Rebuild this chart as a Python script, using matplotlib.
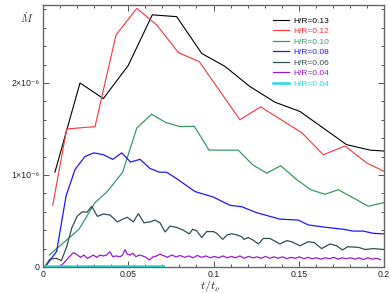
import matplotlib
matplotlib.use("Agg")
import matplotlib.pyplot as plt
from matplotlib.ticker import MultipleLocator, FixedLocator

plt.rcParams['font.family'] = ['Liberation Sans', 'DejaVu Sans']
plt.rcParams['mathtext.fontset'] = 'cm'

SCALE = 1e-6

labels = ["H/R=0.13", "H/R=0.12", "H/R=0.10", "H/R=0.08", "H/R=0.06", "H/R=0.04", "H/R=0.04"]
colors = ["#000000", "#ff3333", "#3a9a5f", "#1a1aff", "#2f4f4f", "#9a19d6", "#22dddd"]
widths = [0.8, 0.8, 0.9, 0.9, 0.9, 0.9, 1.8]

x013 = [0.0070, 0.0217, 0.0354, 0.0500, 0.0641, 0.0784, 0.0931, 0.1067, 0.1214, 0.1361, 0.1507, 0.1780, 0.1918, 0.2000]
y013 = [1.03, 2.00, 1.83, 2.19, 2.74, 2.72, 2.32, 2.18, 1.96, 1.79, 1.69, 1.33, 1.27, 1.26]

x012 = [0.0057, 0.0139, 0.0305, 0.0428, 0.0550, 0.0667, 0.0794, 0.0917, 0.1155, 0.1277, 0.1517, 0.1644, 0.1771, 0.1899, 0.2000]
y012 = [0.67, 1.50, 1.525, 2.52, 2.81, 2.63, 2.33, 2.23, 1.60, 1.74, 1.46, 1.22, 1.315, 1.13, 1.04]

x010 = [0.0037, 0.0211, 0.0305, 0.0377, 0.0467, 0.0550, 0.0637, 0.0720, 0.0804, 0.0887, 0.0974, 0.1145,
        0.1230, 0.1312, 0.1394, 0.1488, 0.1570, 0.1654, 0.1732, 0.1820, 0.1908, 0.2000]
y010 = [0.13, 0.41, 0.70, 0.82, 1.03, 1.51, 1.66, 1.57, 1.525, 1.53, 1.27, 1.27,
        1.11, 1.02, 1.10, 0.95, 0.84, 0.79, 0.84, 0.75, 0.66, 0.70]

x008 = [0.0012, 0.0080, 0.0135, 0.0188, 0.0246, 0.0299, 0.0354, 0.0409, 0.0462, 0.0514, 0.0569, 0.0628,
        0.0682, 0.0725, 0.0784, 0.0891, 0.0999, 0.1097, 0.1165, 0.1253, 0.1331, 0.1390, 0.1497, 0.1556,
        0.1664, 0.1761, 0.1820, 0.1879, 0.1937, 0.2000]
y008 = [0.0, 0.17, 0.77, 1.06, 1.20, 1.24, 1.22, 1.17, 1.24, 1.14, 1.17, 1.07,
        1.03, 1.03, 0.96, 0.82, 0.76, 0.67, 0.655, 0.59, 0.55, 0.52, 0.51, 0.457,
        0.43, 0.41, 0.39, 0.39, 0.366, 0.36]

x006 = [0.0010, 0.0040, 0.0076, 0.0108, 0.0139, 0.0168, 0.0200, 0.0230, 0.0258, 0.0286, 0.0319, 0.0354,
        0.0393, 0.0436, 0.0467, 0.0494, 0.0530, 0.0559, 0.0592, 0.0628, 0.0657, 0.0686, 0.0716, 0.0745,
        0.0784, 0.0823, 0.0858, 0.0878, 0.0901, 0.0931, 0.0960, 0.0999, 0.1019, 0.1054, 0.1081, 0.1107,
        0.1136, 0.1165, 0.1179, 0.1204, 0.1234, 0.1263, 0.1292, 0.1331, 0.1390, 0.1429, 0.1458, 0.1507,
        0.1556, 0.1591, 0.1634, 0.1683, 0.1723, 0.1756, 0.1787, 0.1850, 0.1889, 0.1937, 0.2000]
y006 = [0.0, 0.084, 0.095, 0.070, 0.22, 0.42, 0.55, 0.60, 0.595, 0.66, 0.55, 0.576,
        0.565, 0.49, 0.52, 0.54, 0.49, 0.58, 0.48, 0.49, 0.51, 0.48, 0.38, 0.445,
        0.43, 0.40, 0.36, 0.41, 0.395, 0.32, 0.385, 0.385, 0.366, 0.30, 0.35, 0.36,
        0.35, 0.33, 0.30, 0.32, 0.29, 0.25, 0.31, 0.31, 0.25, 0.286, 0.275, 0.23,
        0.275, 0.265, 0.20, 0.25, 0.23, 0.185, 0.22, 0.214, 0.19, 0.20, 0.19]

x004 = [0.0000, 0.0100, 0.0129, 0.0155, 0.0178, 0.0202, 0.0221, 0.0240, 0.0260, 0.0280, 0.0295, 0.0315,
        0.0334, 0.0354, 0.0373, 0.0393, 0.0409, 0.0428, 0.0452, 0.0467, 0.0481, 0.0494, 0.0510, 0.0526,
        0.0545, 0.0565, 0.0585, 0.0604, 0.0624, 0.0647, 0.0667, 0.0686,
        0.0705, 0.0730, 0.0755, 0.0780, 0.0805, 0.0830, 0.0855, 0.0880, 0.0905, 0.0930, 0.0955, 0.0980, 0.1005,
        0.1030, 0.1055, 0.1080, 0.1105, 0.1130, 0.1155, 0.1180, 0.1205, 0.1230, 0.1255, 0.1280, 0.1305,
        0.1330, 0.1355, 0.1380, 0.1405, 0.1430, 0.1455, 0.1480, 0.1505, 0.1530, 0.1555, 0.1580, 0.1605,
        0.1630, 0.1655, 0.1680, 0.1705, 0.1730, 0.1755, 0.1780, 0.1805, 0.1830, 0.1855, 0.1880, 0.1905,
        0.1930, 0.1955, 0.1980]
y004 = [0.003, 0.003, 0.058, 0.112, 0.156, 0.13, 0.105, 0.13, 0.094, 0.112, 0.13, 0.105,
        0.13, 0.12, 0.13, 0.166, 0.112, 0.12, 0.112, 0.13, 0.19, 0.14, 0.13, 0.15,
        0.112, 0.13, 0.12, 0.105, 0.076, 0.112, 0.12, 0.14,
        0.125, 0.105, 0.13, 0.11, 0.125, 0.105, 0.12, 0.10, 0.125, 0.105, 0.12, 0.10, 0.115,
        0.10, 0.12, 0.10, 0.115, 0.10, 0.12, 0.095, 0.115, 0.10, 0.11, 0.095, 0.115,
        0.095, 0.11, 0.095, 0.11, 0.09, 0.105, 0.095, 0.11, 0.09, 0.105, 0.09, 0.10,
        0.085, 0.10, 0.09, 0.105, 0.085, 0.10, 0.09, 0.10, 0.085, 0.10, 0.08, 0.10,
        0.085, 0.095, 0.08]

x004b = [0.0, 0.010, 0.020, 0.030, 0.040, 0.050, 0.060, 0.071]
y004b = [0.004, 0.006, 0.004, 0.007, 0.005, 0.007, 0.005, 0.006]

series_x = [x013, x012, x010, x008, x006, x004, x004b]
series_y = [y013, y012, y010, y008, y006, y004, y004b]

xticks = [0, 0.05, 0.1, 0.15, 0.2]
xticklabels = ["0", "0.05", "0.1", "0.15", "0.2"]
yticks = [0, 1e-6, 2e-6]
yticklabels = ["0", "1×10⁻⁶", "2×10⁻⁶"]

fig = plt.figure(figsize=(3.9, 2.93), dpi=100)
ax = fig.add_axes([43/390, 1-267/293, 341/390, (267-4.7)/293])

for xs, ys, c, lw, lab in zip(series_x, series_y, colors, widths, labels):
    ax.plot(xs, [v * SCALE for v in ys], color=c, lw=lw, label=lab, solid_joinstyle='miter')

ax.set_xlim(0, 0.2)
ax.set_ylim(0, 2.85e-6)
ax.xaxis.set_major_locator(FixedLocator(xticks))
ax.set_xticklabels(xticklabels)
ax.yaxis.set_major_locator(FixedLocator(yticks))
ax.set_yticklabels(yticklabels)
ax.xaxis.set_minor_locator(MultipleLocator(0.01))
ax.yaxis.set_minor_locator(MultipleLocator(0.2e-6))
ax.tick_params(which='both', direction='in', top=True, right=True, colors='#555555',
               labelcolor='#222222', labelsize=6.3, width=0.7)
ax.tick_params(which='major', length=4, pad=2.5)
ax.tick_params(which='minor', length=2)
for s in ax.spines.values():
    s.set_color('#666666')
    s.set_linewidth(1.0)

leg_fs = 6.0
leg = ax.legend(loc='upper left', bbox_to_anchor=((273-43)/341, 1-(17.0-4.7)/262.3), frameon=False,
                fontsize=leg_fs, handlelength=1.9, handletextpad=0.6, labelspacing=0.32,
                borderaxespad=0, borderpad=0)
for t, c in zip(leg.get_texts(), colors):
    t.set_color(c)

fig.text(27/390, 1-18/293, r'$\dot{M}$', fontsize=8, ha='center', va='center', color='#333333')
fig.text(210/390, 1-286.5/293, r'$t/t_\nu$', fontsize=8.5, ha='center', va='center', color='#222222')

fig.savefig("out.png", dpi=100)
